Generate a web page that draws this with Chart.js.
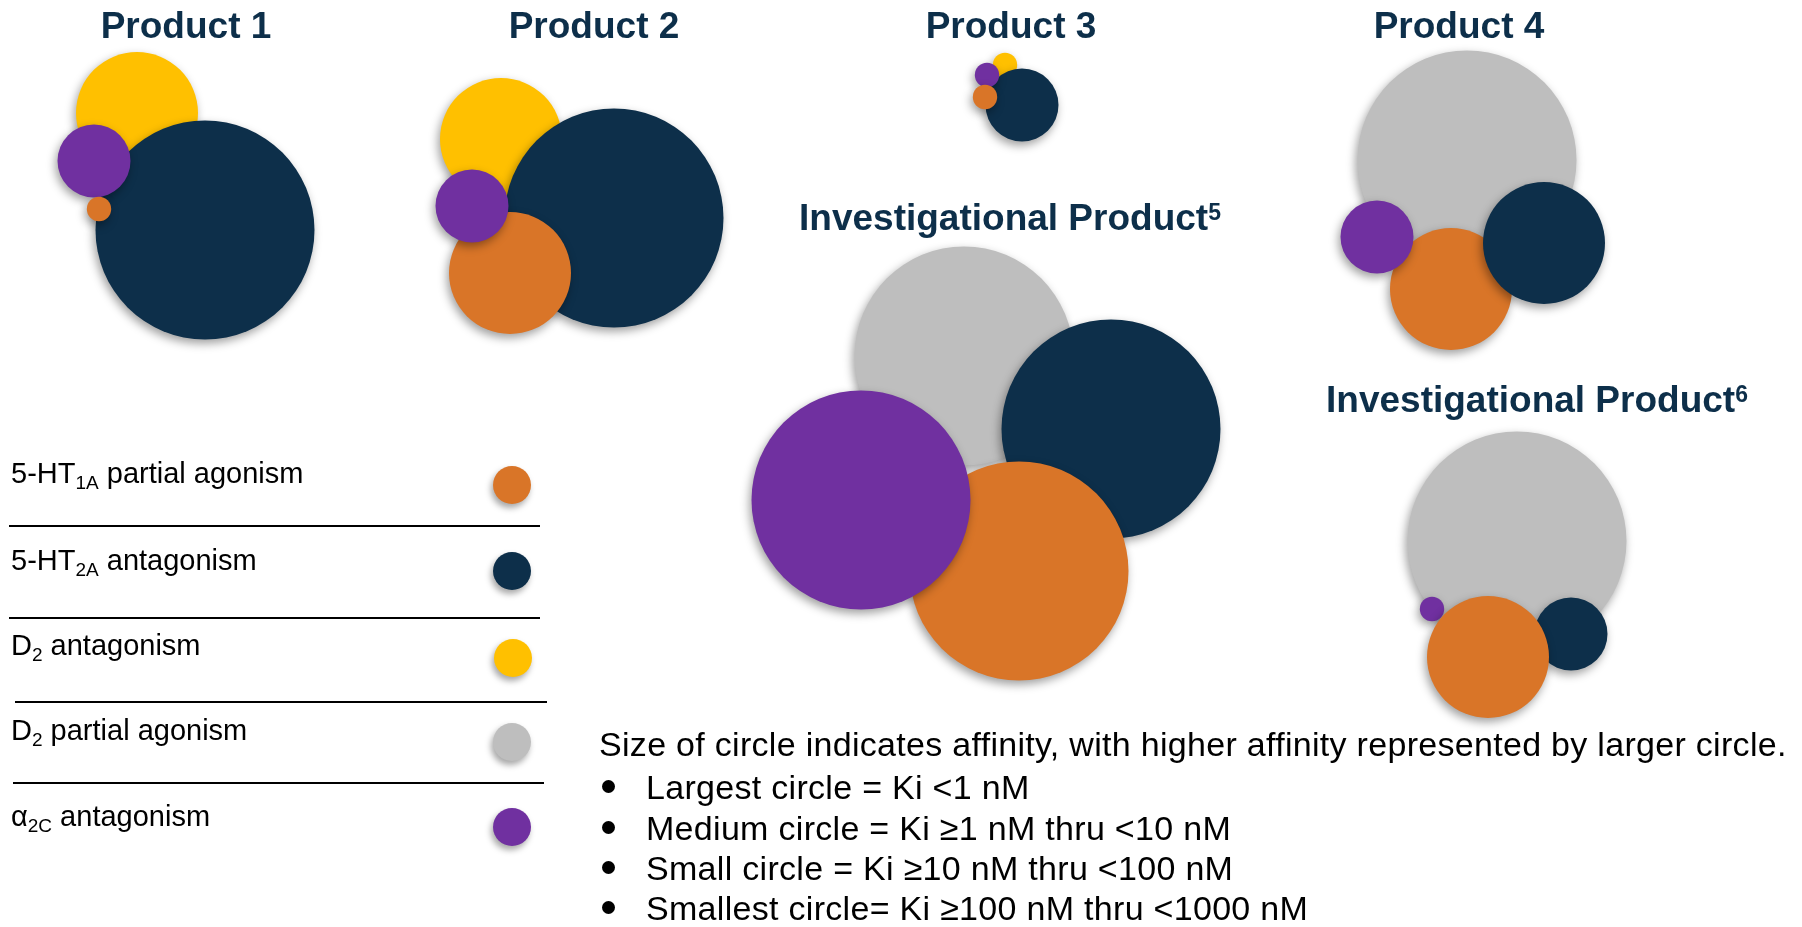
<!DOCTYPE html>
<html>
<head>
<meta charset="utf-8">
<script src="https://cdn.jsdelivr.net/npm/chart.js@4.4.1/dist/chart.umd.min.js"></script>
<style>
  html, body { margin: 0; padding: 0; background: #fff; overflow: hidden; }
  #wrap { position: relative; width: 1802px; height: 927px; font-family: "Liberation Sans", Arial, sans-serif; }
  #wrap canvas { position: absolute; left: 0; top: 0; }
  .title { position: absolute; width: 600px; text-align: center; font-weight: bold; font-size: 37px; line-height: 37px; color: #0D2F4A; white-space: nowrap; }
  .title sup { font-size: 23px; position: relative; top: -10px; vertical-align: baseline; }
  .legend-row { position: absolute; left: 11px; font-size: 29px; line-height: 29px; color: #000; white-space: nowrap; }
  .legend-row sub { font-size: 19px; position: relative; top: 6px; vertical-align: baseline; }
  .dot { position: absolute; width: 38px; height: 38px; border-radius: 50%; box-shadow: -2px 4px 6px rgba(0, 0, 0, 0.35); }
  .rule { position: absolute; height: 2px; background: #000; }
  .note { position: absolute; font-size: 34px; line-height: 34px; color: #000; white-space: nowrap; letter-spacing: 0.3px; }
  .bullet { position: absolute; width: 13px; height: 13px; border-radius: 50%; background: #000; }
</style>
</head>
<body>
<div id="wrap">
  <canvas id="affinityChart"></canvas>
</div>
<script>
// receptors, in legend order
const receptors = [
  "5-HT<sub>1A</sub> partial agonism",
  "5-HT<sub>2A</sub> antagonism",
  "D<sub>2</sub> antagonism",
  "D<sub>2</sub> partial agonism",
  "α<sub>2C</sub> antagonism",
];
const receptorColors = ["#D97528", "#0D2F4A", "#FFC000", "#BEBEBE", "#7030A0"];

const products = ["Product 1", "Product 2", "Product 3", "Product 4", "Investigational Product", "Investigational Product"];
const footnotes = ["", "", "", "", "5", "6"];

// affinity tier per receptor: 1 = Ki <1 nM, 2 = 1-10 nM, 3 = 10-100 nM, 4 = 100-1000 nM, null = none
const product1 = [4, 1, 2, null, 3];
const product2 = [2, 1, 2, null, 3];
const product3 = [4, 3, 4, null, 4];
const product4 = [2, 2, null, 1, 3];
const invProduct5 = [1, 1, null, 1, 1];
const invProduct6 = [2, 3, null, 1, 4];

const tierLabels = [
  "Largest circle = Ki <1 nM",
  "Medium circle = Ki ≥1 nM thru <10 nM",
  "Small circle = Ki ≥10 nM thru <100 nM",
  "Smallest circle= Ki ≥100 nM thru <1000 nM",
];
const noteText = "Size of circle indicates affinity, with higher affinity represented by larger circle.";

// ---- layout ----

// bubble radius (px) for each tier
const tierRadius = { 1: 109.5, 2: 61, 3: 36.5, 4: 12.2 };

// bubble centres in chart units, one per receptor
const layout1 = [[99, 209], [205, 230], [137, 113], null, [94, 161]];
const layout2 = [[510, 273], [614, 218], [501, 139], null, [472, 206]];
const layout3 = [[985, 97], [1022, 105], [1005, 65], null, [987, 75]];
const layout4 = [[1451, 289], [1544, 243], null, [1467, 160], [1377, 237]];
const layout5 = [[1019, 571], [1111, 429], null, [964, 356], [861, 500]];
const layout6 = [[1488, 657], [1571, 634], null, [1517, 541], [1432, 609]];

// paint order inside each cluster, bottom first (receptor indexes)
const stack1 = [2, 1, 4, 0];
const stack2 = [2, 1, 0, 4];
const stack3 = [2, 1, 4, 0];
const stack4 = [3, 0, 1, 4];
const stack5 = [3, 1, 0, 4];
const stack6 = [3, 4, 1, 0];

// title centre x and baseline
const titlePos = [[186, 38], [594, 38], [1011, 38], [1459, 38], [1010, 230], [1537, 412]];

const legendBaselines = [484, 571, 656, 741, 827];
const legendDots = [[512, 485], [512, 571], [513, 658], [512, 742], [512, 827]];
const legendRules = [[9, 540, 525], [9, 540, 617], [15, 547, 701], [13, 544, 782]];

const noteBaseline = 756;
const bulletBaselines = [799, 840, 880, 920];

// ---- text overlays ----

const wrap = document.getElementById("wrap");

function place(html, cls, left, baseline, fontSize) {
  const el = document.createElement("div");
  el.className = cls;
  el.innerHTML = html;
  el.style.left = left + "px";
  el.style.top = baseline - 0.8465 * fontSize + "px";
  wrap.appendChild(el);
  return el;
}

products.forEach((name, i) => {
  const sup = footnotes[i] ? "<sup>" + footnotes[i] + "</sup>" : "";
  place(name + sup, "title", titlePos[i][0] - 300, titlePos[i][1], 37);
});

receptors.forEach((label, i) => {
  place(label, "legend-row", 11, legendBaselines[i], 29);
  const dot = document.createElement("div");
  dot.className = "dot";
  dot.style.left = legendDots[i][0] - 19 + "px";
  dot.style.top = legendDots[i][1] - 19 + "px";
  dot.style.background = receptorColors[i];
  wrap.appendChild(dot);
});

legendRules.forEach(([x0, x1, y]) => {
  const rule = document.createElement("div");
  rule.className = "rule";
  rule.style.left = x0 + "px";
  rule.style.width = x1 - x0 + "px";
  rule.style.top = y + "px";
  wrap.appendChild(rule);
});

place(noteText, "note", 599, noteBaseline, 34);
tierLabels.forEach((label, i) => {
  const bullet = document.createElement("div");
  bullet.className = "bullet";
  bullet.style.left = "602px";
  bullet.style.top = bulletBaselines[i] - 19 + "px";
  wrap.appendChild(bullet);
  place(label, "note", 646, bulletBaselines[i], 34);
});

// ---- bubbles ----

const tiers = [product1, product2, product3, product4, invProduct5, invProduct6];
const layouts = [layout1, layout2, layout3, layout4, layout5, layout6];
const stacks = [stack1, stack2, stack3, stack4, stack5, stack6];

const datasets = products.map((name, p) => {
  const order = stacks[p];
  return {
    label: name + footnotes[p],
    data: order.map((r) => ({
      x: layouts[p][r][0],
      y: layouts[p][r][1],
      r: tierRadius[tiers[p][r]],
    })),
    backgroundColor: order.map((r) => receptorColors[r]),
    borderWidth: 0,
    clip: false,
  };
});

// soft drop shadow under every bubble
const shadowPlugin = {
  id: "bubbleShadow",
  beforeDatasetsDraw(chart) {
    const ctx = chart.ctx;
    ctx.save();
    ctx.shadowColor = "rgba(0, 0, 0, 0.38)";
    ctx.shadowBlur = 10;
    ctx.shadowOffsetX = -2;
    ctx.shadowOffsetY = 4;
  },
  afterDatasetsDraw(chart) {
    chart.ctx.restore();
  },
};

new Chart(document.getElementById("affinityChart").getContext("2d"), {
  type: "bubble",
  data: { datasets: datasets },
  options: {
    responsive: true,
    maintainAspectRatio: false,
    animation: false,
    events: [],
    layout: { padding: 0, autoPadding: false },
    scales: {
      x: { type: "linear", min: 0, max: 1802, display: false },
      y: { type: "linear", min: 0, max: 927, reverse: true, display: false },
    },
    plugins: {
      legend: { display: false },
      tooltip: { enabled: false },
    },
  },
  plugins: [shadowPlugin],
});
</script>
</body>
</html>
